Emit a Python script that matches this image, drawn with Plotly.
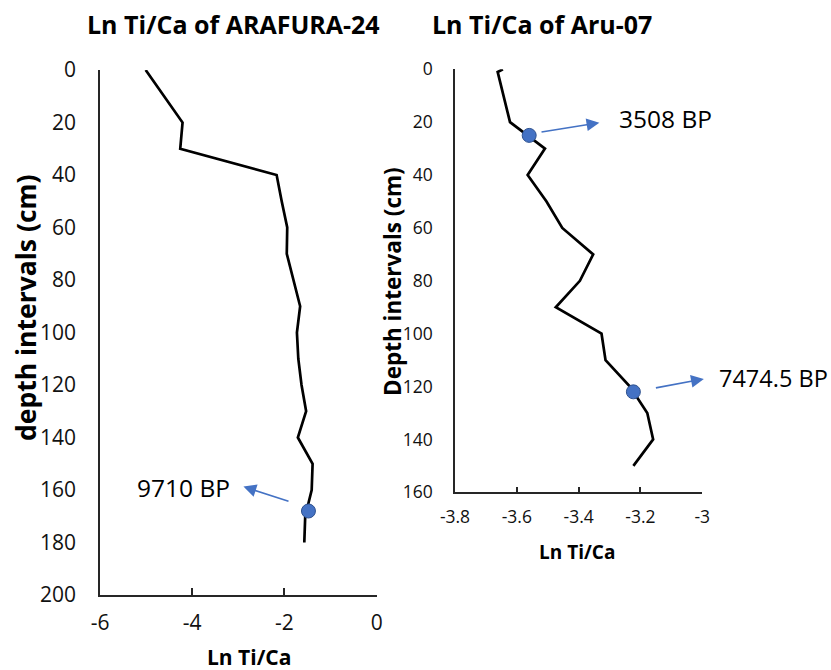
import plotly.graph_objects as go

# ---- data: ARAFURA-24 ----
ara_depth = [0, 20, 30, 40, 50, 60, 70, 80, 90, 100, 110, 120, 130, 140, 150, 160, 170, 180]
ara_lntica = [-5.01, -4.21, -4.26, -2.17, -2.06, -1.94, -1.95, -1.81, -1.66, -1.73, -1.70,
              -1.63, -1.53, -1.71, -1.39, -1.41, -1.55, -1.57]
ara_date_depth = [168]
ara_date_val = [-1.48]
ara_date_label = ["9710 BP"]

# ---- data: Aru-07 ----
aru_depth = [0, 1, 20, 30, 40, 50, 60, 70, 80, 90, 100, 110, 120, 130, 140, 150]
aru_lntica = [-3.645, -3.662, -3.622, -3.509, -3.565, -3.504, -3.453, -3.353, -3.396,
              -3.474, -3.326, -3.313, -3.234, -3.178, -3.159, -3.223]
aru_date_depth = [25, 122]
aru_date_val = [-3.56, -3.223]
aru_date_label = ["3508 BP", "7474.5 BP"]

# ---- tick labels ----
ara_xticks = [-6, -4, -2, 0]
ara_xticktext = ["-6", "-4", "-2", "0"]
ara_yticks = [0, 20, 40, 60, 80, 100, 120, 140, 160, 180, 200]
aru_xticks = [-3.8, -3.6, -3.4, -3.2, -3.0]
aru_xticktext = ["-3.8", "-3.6", "-3.4", "-3.2", "-3"]
aru_yticks = [0, 20, 40, 60, 80, 100, 120, 140, 160]

titles = ["Ln Ti/Ca of ARAFURA-24", "Ln Ti/Ca of Aru-07"]
xtitle = "Ln Ti/Ca"
ytitles = ["depth intervals (cm)", "Depth intervals (cm)"]

FONT = "Open Sans"
BLUE = "#4472C4"
W, H = 831, 670

fig = go.Figure()
fig.add_trace(go.Scatter(x=ara_lntica, y=ara_depth, mode="lines",
                         line=dict(color="black", width=2.7), xaxis="x", yaxis="y",
                         showlegend=False))
fig.add_trace(go.Scatter(x=ara_date_val, y=ara_date_depth, mode="markers",
                         marker=dict(color=BLUE, size=14, line=dict(color="#2F528F", width=1)),
                         xaxis="x", yaxis="y", showlegend=False))
fig.add_trace(go.Scatter(x=aru_lntica, y=aru_depth, mode="lines",
                         line=dict(color="black", width=2.7), xaxis="x2", yaxis="y2",
                         showlegend=False))
fig.add_trace(go.Scatter(x=aru_date_val, y=aru_date_depth, mode="markers",
                         marker=dict(color=BLUE, size=14, line=dict(color="#2F528F", width=1)),
                         xaxis="x2", yaxis="y2", showlegend=False, cliponaxis=False))

axis_common = dict(showgrid=False, zeroline=False, showline=True, linecolor="#262626",
                   linewidth=1.6)
tick_font_l = dict(family=FONT, size=21, color="#111")
tick_font_r = dict(family=FONT, size=17.5, color="#111")

fig.update_layout(
    width=W, height=H,
    margin=dict(l=0, r=0, t=0, b=0, autoexpand=False),
    paper_bgcolor="white", plot_bgcolor="white",
    xaxis=dict(domain=[100 / W, 376.7 / W], range=[-6, 0], anchor="y",
               tickvals=ara_xticks, ticktext=ara_xticktext, ticks="inside", ticklen=7,
               tickwidth=1.6, tickcolor="#262626", tickfont=tick_font_l,
               ticklabelstandoff=8, **axis_common),
    yaxis=dict(domain=[75 / H, 600 / H], range=[200, 0], anchor="x",
               tickvals=ara_yticks, ticks="", tickfont=tick_font_l,
               ticklabelstandoff=18, **axis_common),
    xaxis2=dict(domain=[455 / W, 702.3 / W], range=[-3.8, -3.0], anchor="y2",
                tickvals=aru_xticks, ticktext=aru_xticktext, ticks="inside", ticklen=6,
                tickwidth=1.6, tickcolor="#262626", tickfont=tick_font_r,
                ticklabelstandoff=8, **axis_common),
    yaxis2=dict(domain=[177.7 / H, 600.7 / H], range=[160, 0], anchor="x2",
                tickvals=aru_yticks, ticks="", tickfont=tick_font_r,
                ticklabelstandoff=17, **axis_common),
)


def paper_text(text, px, py, size, angle=0):
    return dict(text=text, x=px / W, y=1 - py / H, xref="paper", yref="paper",
                xanchor="center", yanchor="middle", showarrow=False, textangle=angle,
                font=dict(family=FONT, size=size, color="black"))


ann = []
# chart titles
ann.append(paper_text(f"<b>{titles[0]}</b>", 233, 24, 25))
ann.append(paper_text(f"<b>{titles[1]}</b>", 542, 24, 25))
# axis titles
ann.append(paper_text(f"<b>{xtitle}</b>", 249, 657, 21))
ann.append(paper_text(f"<b>{xtitle}</b>", 577, 552, 19))
ann.append(paper_text(f"<b>{ytitles[0]}</b>", 26, 308, 26.5, -90))
ann.append(paper_text(f"<b>{ytitles[1]}</b>", 392, 282, 22.5, -90))

# date labels & arrows (arrow: tail near the marker, head toward label)
label_font = dict(family=FONT, size=24.5, color="black")
# ARAFURA-24
ann.append(dict(text=ara_date_label[0], x=-4.2, y=159, xref="x", yref="y",
                xanchor="center", yanchor="middle", showarrow=False, font=label_font))
ann.append(dict(text="", x=-2.89, y=158.7, ax=-1.88, ay=164.5, xref="x", yref="y",
                axref="x", ayref="y", showarrow=True, arrowhead=2, arrowsize=1.6,
                arrowwidth=1.6, arrowcolor=BLUE))
# Aru-07
ann.append(dict(text=aru_date_label[0], x=-3.277, y=18.5, xref="x2", yref="y2",
                xanchor="left", yanchor="middle", showarrow=False, font=label_font))
ann.append(dict(text="", x=-3.333, y=20.2, ax=-3.525, ay=23.8, xref="x2", yref="y2",
                axref="x2", ayref="y2", showarrow=True, arrowhead=2, arrowsize=1.6,
                arrowwidth=1.6, arrowcolor=BLUE))
ann.append(dict(text=aru_date_label[1], x=-3.0, y=116.8, xref="x2", yref="y2",
                xanchor="left", yanchor="middle", xshift=15, showarrow=False,
                font=dict(family=FONT, size=23.5, color="black")))
ann.append(dict(text="", x=-2.995, y=117.1, ax=-3.155, ay=120.6, xref="x2", yref="y2",
                axref="x2", ayref="y2", showarrow=True, arrowhead=2, arrowsize=1.6,
                arrowwidth=1.6, arrowcolor=BLUE))

fig.update_layout(annotations=ann)
fig.write_html("out.html", config={"displayModeBar": False},
               post_script="document.body.style.margin='0px';document.body.style.overflow='hidden';")
